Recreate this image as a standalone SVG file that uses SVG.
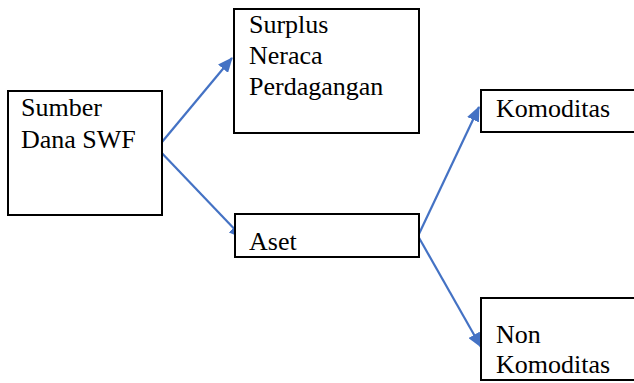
<svg xmlns="http://www.w3.org/2000/svg" width="634" height="383" viewBox="0 0 634 383">
<style>
.box{fill:#fff;stroke:#000;stroke-width:2}
.c{stroke:#4472C4;stroke-width:2.2;fill:none}
</style>
<defs>
<marker id="ah" markerWidth="15" markerHeight="13" refX="14" refY="6.5" orient="auto" markerUnits="userSpaceOnUse" viewBox="0 0 15 13">
<path d="M0,0 L15,6.5 L0,13 Z" fill="#4472C4"/>
</marker>
</defs>
<g id="connectors">
<polyline class="c" points="157,148 232,58" marker-end="url(#ah)"/>
<polyline class="c" points="157,148 243,238" marker-end="url(#ah)"/>
<polyline class="c" points="418,236 479,107" marker-end="url(#ah)"/>
<polyline class="c" points="418,236 481,347" marker-end="url(#ah)"/>
</g>
<g font-family="Times New Roman, Liberation Serif, DejaVu Serif, serif" font-size="26" fill="#000">
<g id="sumber">
<rect class="box" x="8" y="91" width="154" height="124"/>
<text x="21" y="116">Sumber</text>
<text x="21" y="148">Dana SWF</text>
</g>
<g id="surplus">
<rect class="box" x="234" y="9" width="185" height="124"/>
<text x="249" y="33">Surplus</text>
<text x="249" y="64">Neraca</text>
<text x="249" y="95">Perdagangan</text>
</g>
<g id="aset">
<rect class="box" x="235" y="214" width="184" height="43"/>
<text x="249" y="250">Aset</text>
</g>
<g id="komoditas">
<rect class="box" x="481" y="90" width="160" height="42"/>
<text x="496" y="117">Komoditas</text>
</g>
<g id="nonkomoditas">
<rect class="box" x="481" y="298" width="160" height="82"/>
<text x="496" y="343">Non</text>
<text x="496" y="373">Komoditas</text>
</g>
</g>
</svg>
